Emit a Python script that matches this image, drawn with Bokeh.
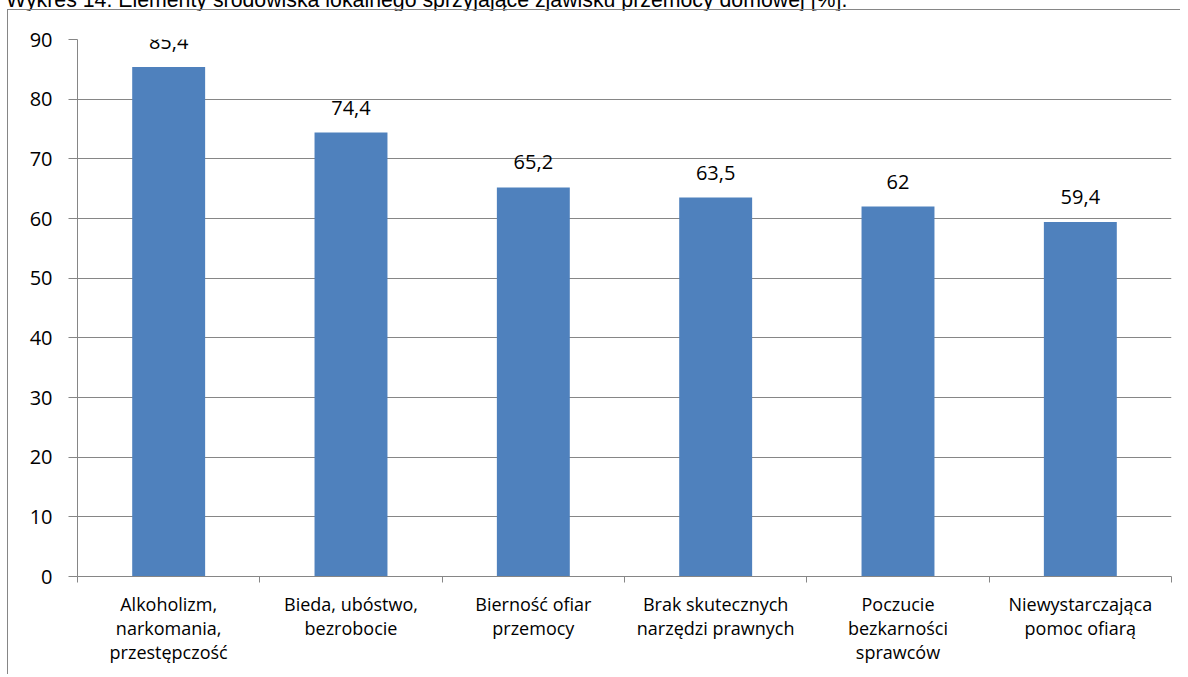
from bokeh.plotting import figure
from bokeh.models import ColumnDataSource, LabelSet, FixedTicker, Range1d, Div
from bokeh.layouts import column
from bokeh.core.properties import value
from bokeh.embed import file_html
from bokeh.resources import INLINE

title_text = "Wykres 14. Elementy środowiska lokalnego sprzyjające zjawisku przemocy domowej [%]."
categories = [
    "Alkoholizm,\nnarkomania,\nprzestępczość",
    "Bieda, ubóstwo,\nbezrobocie",
    "Bierność ofiar\nprzemocy",
    "Brak skutecznych\nnarzędzi prawnych",
    "Poczucie\nbezkarności\nsprawców",
    "Niewystarczająca\npomoc ofiarą",
]
values = [85.4, 74.4, 65.2, 63.5, 62.0, 59.4]
y_ticks = [0, 10, 20, 30, 40, 50, 60, 70, 80, 90]

FONT = "Open Sans"
GRAY = "#868686"
BAR = "#4F81BD"

xs = [i + 0.5 for i in range(len(categories))]
labels = [("%g" % v).replace(".", ",") for v in values]
src = ColumnDataSource(dict(x=xs, v=values, lab=labels))

p = figure(
    x_range=Range1d(0, len(categories)),
    y_range=Range1d(0, 90),
    frame_width=1093,
    frame_height=536,
    min_border_left=69,
    min_border_right=10,
    min_border_top=29,
    min_border_bottom=99,
    output_backend="svg",
    toolbar_location=None,
)
p.outline_line_color = None
p.background_fill_color = "white"
p.border_fill_color = "white"

p.vbar(x="x", top="v", width=0.4, source=src, fill_color=BAR, line_color=None)

p.add_layout(LabelSet(x="x", y="v", text="lab", source=src, text_align="center",
                      text_baseline="alphabetic", y_offset=18, text_font=value(FONT),
                      text_font_size="20px", text_color="black"))

# x axis
p.xaxis.ticker = FixedTicker(ticks=xs, minor_ticks=list(range(len(categories) + 1)))
p.xaxis.major_label_overrides = {x: c for x, c in zip(xs, categories)}
p.xaxis.major_tick_line_color = None
p.xaxis.major_tick_out = 0
p.xaxis.major_tick_in = 0
p.xaxis.minor_tick_line_color = GRAY
p.xaxis.minor_tick_out = 6
p.xaxis.minor_tick_in = 0
p.xaxis.axis_line_color = GRAY
p.xaxis.major_label_standoff = 9
p.xaxis.major_label_text_font = FONT
p.xaxis.major_label_text_font_size = "18px"
p.xaxis.major_label_text_line_height = 1.0
p.xaxis.major_label_text_color = "black"
p.xaxis.major_label_orientation = "horizontal"

# y axis
p.yaxis.ticker = FixedTicker(ticks=y_ticks)
p.yaxis.axis_line_color = GRAY
p.yaxis.major_tick_line_color = GRAY
p.yaxis.major_tick_out = 9
p.yaxis.major_tick_in = 0
p.yaxis.minor_tick_line_color = None
p.yaxis.major_label_standoff = 16
p.yaxis.major_label_text_font = FONT
p.yaxis.major_label_text_font_size = "20px"
p.yaxis.major_label_text_color = "black"

p.xgrid.visible = False
p.ygrid.ticker = FixedTicker(ticks=y_ticks)
p.ygrid.grid_line_color = GRAY
p.ygrid.grid_line_width = 1

p.styles = {
    "border-left": "1px solid " + GRAY,
    "border-top": "1px solid " + GRAY,
    "margin-left": "7px",
    "margin-top": "-2px",
}

title = Div(text=title_text, height=1, styles={
    "font-family": "Liberation Sans, Arial, sans-serif",
    "font-size": "21.3px",
    "position": "relative",
    "top": "-16px",
    "left": "1px",
    "white-space": "nowrap",
    "overflow": "visible",
    "color": "black",
    "line-height": "22px",
})

layout = column(title, p, spacing=0)
open("out.html", "w").write(file_html(layout, INLINE))
